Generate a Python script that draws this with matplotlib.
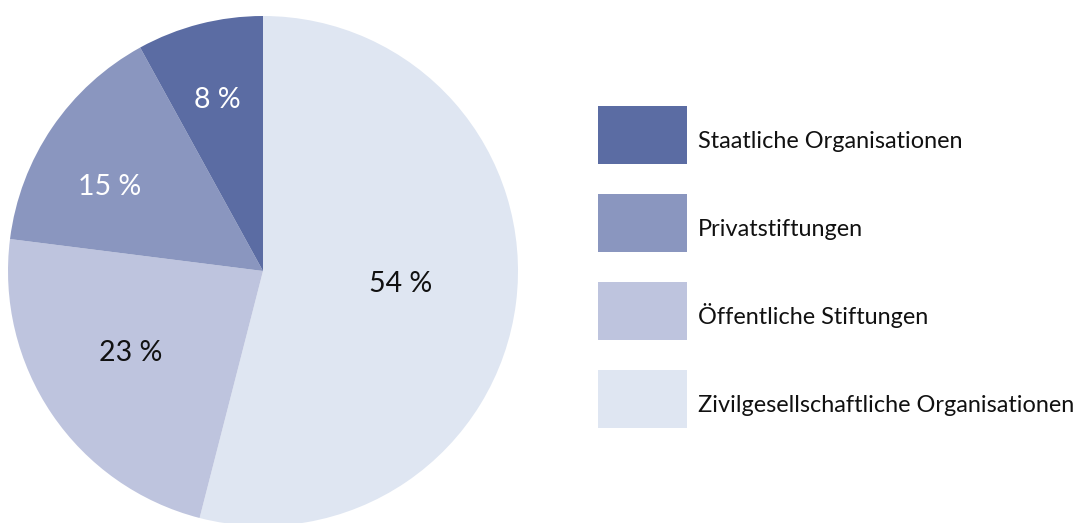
import matplotlib
matplotlib.use("Agg")
import matplotlib.pyplot as plt
from matplotlib.patches import Rectangle

plt.rcParams['font.family'] = ['Lato', 'DejaVu Sans']

categories = ["Staatliche Organisationen", "Privatstiftungen",
              "Öffentliche Stiftungen", "Zivilgesellschaftliche Organisationen"]
values = [8, 15, 23, 54]
colors = ["#5b6ca3", "#8a96bf", "#bec4de", "#dfe6f2"]
label_colors = ["white", "white", "#111111", "#111111"]

fig = plt.figure(figsize=(10.88, 5.23), dpi=100)
W, H = 1088, 523
cx, cy, r = 263, 523 - 271, 255
ax = fig.add_axes([(cx - r) / W, (cy - r) / H, 2 * r / W, 2 * r / H])

# drawing order clockwise from top: 54, 23, 15, 8
order = [3, 2, 1, 0]
wedges, _ = ax.pie([values[i] for i in order], colors=[colors[i] for i in order],
                   startangle=90, counterclock=False, radius=1,
                   wedgeprops=dict(linewidth=0))
ax.set_xlim(-1, 1)
ax.set_ylim(-1, 1)
ax.set_aspect('equal')
ax.axis('off')

label_pos = {0: (-0.18, 0.67), 1: (-0.6, 0.33), 2: (-0.52, -0.32), 3: (0.54, -0.05)}
for i in range(4):
    x, y = label_pos[i]
    ax.text(x, y, f"{values[i]} %", ha='center', va='center', fontsize=20.5,
            color=label_colors[i])

# legend drawn in a pixel-coordinate axes
lax = fig.add_axes([0, 0, 1, 1])
lax.set_xlim(0, W)
lax.set_ylim(H, 0)
lax.axis('off')
x0, y0, bw, bh, step = 598, 106, 89, 58, 88
for i, (c, lab) in enumerate(zip(colors, categories)):
    top = y0 + i * step
    lax.add_patch(Rectangle((x0, top), bw, bh, facecolor=c, edgecolor='none'))
    lax.text(x0 + bw + 11, top + 42, lab, ha='left', va='baseline',
             fontsize=16.9, color="#111111")

fig.savefig("out.png", dpi=100)
